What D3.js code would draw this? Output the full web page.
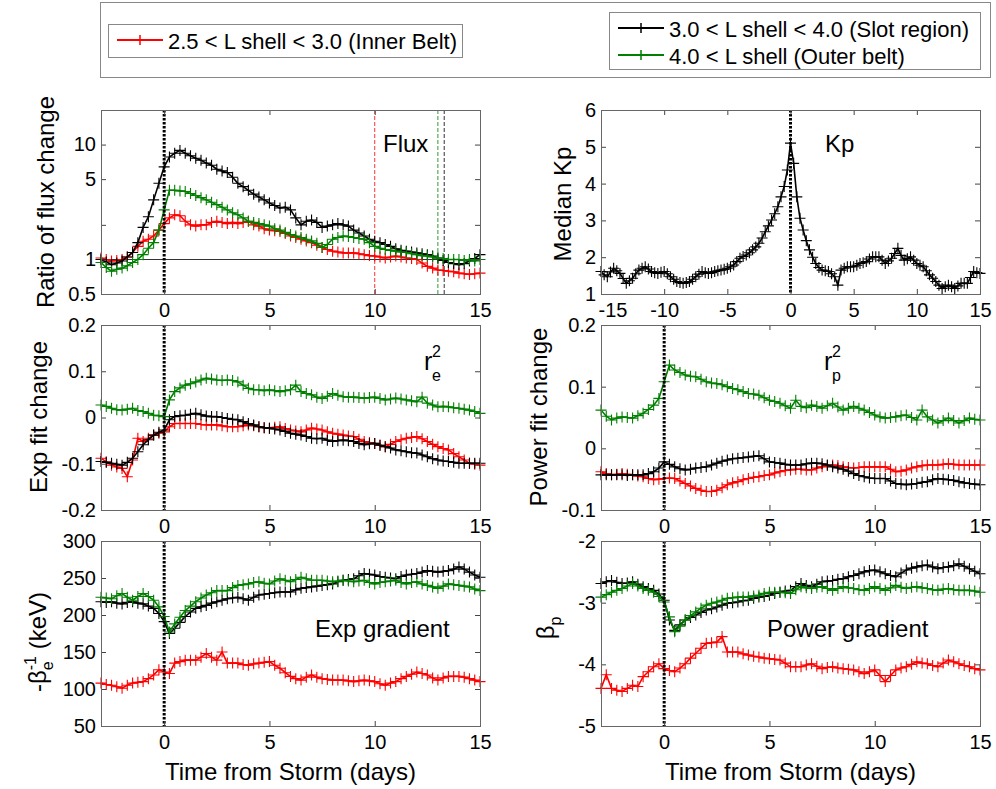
<!DOCTYPE html>
<html>
<head>
<meta charset="utf-8">
<script src="https://cdn.jsdelivr.net/npm/d3@7"></script>
<style>
  body { margin: 0; background: #fff; }
  svg { display: block; }
</style>
</head>
<body>
<svg id="chart" width="996" height="789"></svg>
<script>
// Superposed epoch analysis: values every 0.25 day
const step = 0.25;
const dayStart = -3;   // first sample of the [-3, 15] panels
const kpStart = -15;   // first sample of the Kp panel

const legendLabels = [
    "2.5 < L shell < 3.0 (Inner Belt)",
    "3.0 < L shell < 4.0 (Slot region)",
    "4.0 < L shell (Outer belt)"
];
const seriesColors = ["#ff0000", "#000000", "#008000"];

// Ratio of flux change (log axis)
const fluxRed = [
    1.03, 1.0, 0.97, 0.98,   1.0, 1.05, 1.15, 1.3,   1.44, 1.5, 1.6, 1.8,
    2.05, 2.3, 2.45, 2.4,    2.15, 2.0, 1.95, 2.0,   2.0, 2.1, 2.15, 2.1,
    2.05, 2.1, 2.05, 2.1,    2.15, 2.0, 1.95, 1.85,  1.8, 1.78, 1.75, 1.68,
    1.6, 1.55, 1.5, 1.45,    1.4, 1.33, 1.27, 1.22,  1.18, 1.16, 1.14, 1.14,
    1.14, 1.12, 1.1, 1.08,   1.07, 1.05, 1.03, 1.05, 1.07, 1.05, 1.03, 1.02,
    1.0, 0.93, 0.87, 0.84,   0.81, 0.8, 0.79, 0.78,  0.76, 0.75, 0.74, 0.75,
    0.76
];
const fluxBlack = [
    1.0, 0.95, 0.9, 0.93,    0.97, 1.05, 1.15, 1.4,  1.9, 2.35, 3.3, 4.6,
    6.4, 7.8, 8.4, 8.9,      8.4, 8.0, 7.6, 7.3,     6.9, 6.6, 6.1, 5.9,
    5.7, 5.2, 4.6, 4.3,      4.0, 3.7, 3.5, 3.3,     3.1, 2.95, 2.8, 2.85,
    2.7, 2.3, 2.0, 2.15,     2.2, 2.1, 1.9, 1.95,    2.0, 2.05, 2.0, 1.95,
    1.8, 1.7, 1.6, 1.5,      1.44, 1.4, 1.35, 1.3,   1.24, 1.2, 1.18, 1.16,
    1.14, 1.12, 1.1, 1.07,   1.03, 0.98, 0.94, 0.92, 0.9, 0.92, 0.97, 1.02,
    1.1
];
const fluxGreen = [
    0.94, 0.85, 0.79, 0.82,  0.84, 0.88, 0.94, 1.0,  1.1, 1.25, 1.4, 1.8,
    2.7, 4.0, 4.0, 3.95,     3.9, 3.75, 3.6, 3.45,   3.3, 3.15, 3.0, 2.85,
    2.7, 2.55, 2.45, 2.3,    2.15, 2.1, 2.05, 2.0,   1.95, 1.85, 1.8, 1.72,
    1.65, 1.6, 1.55, 1.5,    1.45, 1.38, 1.27, 1.35, 1.5, 1.55, 1.6, 1.58,
    1.55, 1.52, 1.5, 1.4,    1.3, 1.25, 1.22, 1.2,   1.18, 1.16, 1.15, 1.12,
    1.1, 1.08, 1.07, 1.05,   1.03, 1.02, 1.0, 1.0,   1.0, 0.98, 1.0, 0.97,
    1.0
];
// Day when each series returns to its pre-storm level
const fluxRecoveryDays = [10, 13.3, 13];

// Median Kp, -15 .. 15 days
const kpMedian = [
    1.61, 1.52, 1.47, 1.6,   1.7, 1.63, 1.56, 1.42,  1.29, 1.36, 1.43, 1.55,
    1.65, 1.7, 1.74, 1.68,   1.61, 1.58, 1.56, 1.59, 1.61, 1.55, 1.47, 1.4,
    1.34, 1.31, 1.29, 1.31,  1.34, 1.4, 1.47, 1.54,  1.61, 1.58, 1.56, 1.58,
    1.61, 1.63, 1.65, 1.67,  1.7, 1.74, 1.79, 1.88,  1.97, 2.02, 2.06, 2.12,
    2.2, 2.28, 2.38, 2.52,   2.69, 2.85, 3.01, 3.18, 3.37, 3.64, 3.92, 4.37,
    5.1, 4.55, 3.64, 3.06,   2.74, 2.45, 2.2, 2.0,   1.83, 1.72, 1.65, 1.63,
    1.61, 1.55, 1.47, 1.24,  1.65, 1.7, 1.74, 1.74,  1.74, 1.78, 1.83, 1.85,
    1.88, 1.95, 2.01, 2.01,  2.01, 1.92, 1.83, 1.9,  1.97, 2.1, 2.24, 2.05,
    1.92, 1.96, 2.01, 1.92,  1.83, 1.78, 1.74, 1.63, 1.52, 1.43, 1.34, 1.24,
    1.15, 1.2, 1.24, 1.2,    1.15, 1.22, 1.29, 1.29, 1.29, 1.45, 1.61, 1.58,
    1.56
];

// Exp fit change (r_e^2)
const expFitRed = [
    -0.088, -0.096, -0.103, -0.107,  -0.11, -0.128, -0.092, -0.045,  -0.052, -0.045, -0.038, -0.034,
    -0.031, -0.02, -0.013, -0.013,   -0.013, -0.013, -0.013, -0.015, -0.016, -0.016, -0.016, -0.018,
    -0.02, -0.02, -0.02, -0.018,     -0.016, -0.018, -0.02, -0.022,  -0.023, -0.021, -0.02, -0.024,
    -0.027, -0.029, -0.031, -0.027,  -0.023, -0.025, -0.027, -0.031, -0.034, -0.036, -0.038, -0.04,
    -0.041, -0.047, -0.052, -0.054,  -0.056, -0.06, -0.063, -0.058,  -0.052, -0.048, -0.045, -0.043,
    -0.041, -0.046, -0.052, -0.058,  -0.063, -0.067, -0.07, -0.078,  -0.085, -0.092, -0.099, -0.101,
    -0.103
];
const expFitBlack = [
    -0.095, -0.097, -0.099, -0.101,  -0.103, -0.097, -0.088, -0.074, -0.059, -0.048, -0.038, -0.032,
    -0.027, -0.005, 0.002, 0.004,    0.005, 0.007, 0.009, 0.006,     0.003, 0.002, 0.002, 0.0,
    -0.002, -0.004, -0.005, -0.009,  -0.013, -0.016, -0.02, -0.022,  -0.023, -0.025, -0.027, -0.03,
    -0.034, -0.036, -0.038, -0.041,  -0.045, -0.046, -0.045, -0.049, -0.052, -0.05, -0.049, -0.05,
    -0.052, -0.056, -0.059, -0.057,  -0.056, -0.06, -0.063, -0.066,  -0.07, -0.072, -0.074, -0.076,
    -0.077, -0.081, -0.085, -0.089,  -0.092, -0.094, -0.095, -0.097, -0.099, -0.099, -0.099, -0.099,
    -0.099
];
const expFitGreen = [
    0.027, 0.024, 0.02, 0.017,   0.016, 0.018, 0.02, 0.015,   0.013, 0.009, 0.005, 0.004,
    0.002, 0.038, 0.056, 0.064,  0.07, 0.073, 0.077, 0.081,   0.085, 0.083, 0.081, 0.08,
    0.081, 0.08, 0.077, 0.07,    0.063, 0.06, 0.06, 0.058,    0.06, 0.058, 0.056, 0.058,
    0.06, 0.07, 0.056, 0.052,    0.049, 0.044, 0.041, 0.046,  0.052, 0.048, 0.045, 0.044,
    0.044, 0.043, 0.042, 0.043,  0.044, 0.041, 0.038, 0.04,   0.042, 0.04, 0.038, 0.036,
    0.034, 0.044, 0.031, 0.027,  0.023, 0.024, 0.023, 0.021,  0.02, 0.018, 0.016, 0.013,
    0.009
];

// Power fit change (r_p^2)
const powFitRed = [
    -0.038, -0.041, -0.043, -0.042,  -0.041, -0.042, -0.043, -0.045, -0.046, -0.049, -0.051, -0.05,
    -0.049, -0.048, -0.049, -0.053,  -0.057, -0.061, -0.065, -0.068, -0.07, -0.07, -0.068, -0.064,
    -0.059, -0.056, -0.054, -0.051,  -0.049, -0.047, -0.046, -0.044, -0.043, -0.04, -0.038, -0.036,
    -0.035, -0.034, -0.034, -0.035,  -0.035, -0.032, -0.03, -0.028,  -0.027, -0.028, -0.03, -0.031,
    -0.032, -0.031, -0.03, -0.03,    -0.03, -0.03, -0.03, -0.034,    -0.038, -0.037, -0.035, -0.032,
    -0.03, -0.028, -0.027, -0.027,   -0.027, -0.026, -0.025, -0.026, -0.027, -0.027, -0.027, -0.027,
    -0.027
];
const powFitBlack = [
    -0.043, -0.043, -0.043, -0.043,  -0.043, -0.044, -0.043, -0.043, -0.043, -0.041, -0.038, -0.032,
    -0.022, -0.026, -0.03, -0.033,   -0.035, -0.034, -0.032, -0.031, -0.03, -0.027, -0.024, -0.021,
    -0.019, -0.017, -0.016, -0.015,  -0.014, -0.013, -0.012, -0.017, -0.022, -0.023, -0.024, -0.026,
    -0.027, -0.027, -0.027, -0.025,  -0.024, -0.024, -0.025, -0.027, -0.03, -0.032, -0.034, -0.037,
    -0.041, -0.044, -0.046, -0.048,  -0.049, -0.049, -0.049, -0.053, -0.057, -0.058, -0.059, -0.058,
    -0.057, -0.055, -0.054, -0.051,  -0.049, -0.05, -0.051, -0.052,  -0.054, -0.056, -0.057, -0.058,
    -0.059
];
const powFitGreen = [
    0.062, 0.052, 0.046, 0.049,  0.051, 0.05, 0.049, 0.053,   0.057, 0.063, 0.07, 0.081,
    0.108, 0.135, 0.127, 0.123,  0.119, 0.117, 0.116, 0.112,  0.108, 0.106, 0.105, 0.103,
    0.1, 0.097, 0.095, 0.092,    0.089, 0.088, 0.086, 0.082,  0.078, 0.076, 0.073, 0.069,
    0.065, 0.078, 0.068, 0.066,  0.07, 0.068, 0.065, 0.069,   0.073, 0.067, 0.062, 0.065,
    0.068, 0.065, 0.062, 0.058,  0.054, 0.051, 0.049, 0.05,   0.051, 0.053, 0.054, 0.05,
    0.046, 0.062, 0.051, 0.046,  0.041, 0.045, 0.049, 0.045,  0.041, 0.045, 0.049, 0.047,
    0.046
];

// Exp gradient, -1/beta_e (keV)
const expGradRed = [
    108, 106, 105, 103,  101, 105, 108, 109,  110, 114, 119, 126,
    123, 121, 135, 137,  139, 139, 139, 143,  148, 143, 139, 150,
    135, 135, 135, 133,  132, 134, 135, 136,  137, 132, 128, 122,
    117, 114, 112, 116,  119, 116, 114, 113,  112, 112, 112, 111,
    110, 111, 112, 111,  110, 107, 105, 108,  110, 114, 117, 120,
    123, 121, 119, 115,  112, 115, 117, 117,  117, 116, 114, 112,
    110
];
const expGradBlack = [
    218, 217, 218, 216,  215, 217, 218, 216,  215, 212, 209, 202,
    191, 175, 182, 190,  198, 204, 209, 211,  213, 216, 218, 220,
    222, 223, 224, 222,  220, 224, 227, 228,  229, 230, 231, 231,
    231, 234, 236, 237,  238, 239, 240, 241,  242, 245, 247, 248,
    249, 253, 256, 255,  254, 252, 251, 250,  249, 252, 254, 255,
    256, 258, 260, 259,  258, 259, 260, 262,  265, 262, 258, 254,
    251
];
const expGradGreen = [
    224, 223, 222, 226,  229, 224, 220, 225,  229, 225, 220, 211,
    198, 177, 188, 197,  206, 212, 218, 223,  227, 230, 233, 233,
    233, 237, 240, 241,  242, 244, 245, 243,  242, 246, 249, 247,
    245, 248, 251, 249,  247, 247, 247, 246,  245, 246, 247, 246,
    245, 246, 247, 244,  242, 244, 245, 246,  247, 244, 242, 244,
    245, 242, 240, 238,  236, 239, 242, 241,  240, 239, 238, 235,
    233
];

// Power gradient, beta_p
const powGradRed = [
    -4.39, -4.17, -4.39, -4.42,  -4.44, -4.39, -4.34, -4.36,  -4.2, -4.12, -4.04, -3.99,
    -4.07, -4.1, -4.12, -4.06,   -3.99, -3.9, -3.82, -3.74,   -3.66, -3.65, -3.64, -3.55,
    -3.8, -3.8, -3.8, -3.83,     -3.85, -3.87, -3.88, -3.9,   -3.91, -3.92, -3.93, -3.98,
    -4.04, -4.04, -4.04, -4.01,  -3.99, -4.03, -4.07, -4.05,  -4.04, -4.06, -4.07, -4.08,
    -4.09, -4.12, -4.15, -4.12,  -4.09, -4.18, -4.28, -4.18,  -4.09, -4.06, -4.04, -4.0,
    -3.96, -3.98, -3.99, -4.02,  -4.04, -3.98, -3.93, -3.96,  -3.99, -4.02, -4.04, -4.07,
    -4.09
];
const powGradBlack = [
    -2.69, -2.66, -2.64, -2.67,  -2.69, -2.68, -2.66, -2.7,   -2.74, -2.77, -2.8, -2.86,
    -2.96, -3.28, -3.45, -3.36,  -3.28, -3.24, -3.2, -3.16,   -3.12, -3.1, -3.07, -3.04,
    -3.01, -3.0, -2.99, -2.97,   -2.96, -2.93, -2.91, -2.9,   -2.88, -2.85, -2.83, -2.81,
    -2.8, -2.74, -2.69, -2.72,   -2.74, -2.7, -2.66, -2.65,   -2.64, -2.62, -2.61, -2.58,
    -2.56, -2.53, -2.5, -2.48,   -2.47, -2.5, -2.53, -2.56,   -2.58, -2.52, -2.47, -2.44,
    -2.42, -2.4, -2.39, -2.42,   -2.45, -2.43, -2.42, -2.4,   -2.37, -2.41, -2.45, -2.49,
    -2.53
];
const powGradGreen = [
    -2.91, -2.87, -2.83, -2.8,   -2.77, -2.73, -2.69, -2.73,  -2.77, -2.8, -2.83, -2.9,
    -2.99, -3.23, -3.47, -3.38,  -3.28, -3.21, -3.15, -3.09,  -3.04, -3.01, -2.99, -2.96,
    -2.93, -2.92, -2.91, -2.91,  -2.91, -2.89, -2.88, -2.85,  -2.83, -2.83, -2.83, -2.84,
    -2.85, -2.79, -2.74, -2.76,  -2.77, -2.75, -2.74, -2.77,  -2.8, -2.77, -2.74, -2.76,
    -2.77, -2.79, -2.8, -2.77,   -2.74, -2.77, -2.8, -2.76,   -2.72, -2.75, -2.77, -2.75,
    -2.74, -2.76, -2.77, -2.79,  -2.8, -2.78, -2.77, -2.79,   -2.8, -2.8, -2.8, -2.81,
    -2.83
];

// Axis ticks
const dayTicks = [0, 5, 10, 15];
const kpDayTicks = [-15, -10, -5, 0, 5, 10, 15];
const fluxTicks = [0.5, 1, 2, 5, 10];
const fluxTickLabels = ["0.5", "1", "", "5", "10"];
const kpTicks = [1, 2, 3, 4, 5, 6];
const expFitTicks = [-0.2, -0.1, 0, 0.1, 0.2];
const powFitTicks = [-0.1, 0, 0.1, 0.2];
const expGradTicks = [50, 100, 150, 200, 250, 300];
const powGradTicks = [-5, -4, -3, -2];

const FONT = "'Liberation Sans', Arial, Helvetica, sans-serif";
const svg = d3.select("#chart").attr("font-family", FONT);

// Layout of the 3x2 grid
const cols = [[101, 480], [601, 980]];
const rows = [[110, 294], [325, 510], [541, 726]];

const panels = [
    {
        col: 0, row: 0, xDomain: [-3, 15], xTicks: dayTicks, start: dayStart,
        log: true, yDomain: [0.5, 20], yTicks: fluxTicks,
        yFormat: (d, i) => fluxTickLabels[i],
        series: [fluxRed, fluxBlack, fluxGreen],
        ylabel: { parts: [{ t: "Ratio of flux change" }], bx: 54, cy: 202 },
        notes: [{ t: "Flux", x: 383, y: 152, s: 24 }]
    },
    {
        col: 1, row: 0, xDomain: [-15, 15], xTicks: kpDayTicks, start: kpStart,
        yDomain: [1, 6], yTicks: kpTicks, yFormat: d => String(d),
        series: [null, kpMedian, null],
        ylabel: { parts: [{ t: "Median Kp" }], bx: 571, cy: 204 },
        notes: [{ t: "Kp", x: 825, y: 152, s: 24 }],
        nudgeFirstX: true
    },
    {
        col: 0, row: 1, xDomain: [-3, 15], xTicks: dayTicks, start: dayStart,
        yDomain: [-0.2, 0.2], yTicks: expFitTicks, yFormat: d => String(d),
        series: [expFitRed, expFitBlack, expFitGreen],
        ylabel: { parts: [{ t: "Exp fit change" }], bx: 47, cy: 417 },
        notes: [
            { t: "r", x: 424, y: 370, s: 25 },
            { t: "2", x: 432, y: 357, s: 16 },
            { t: "e", x: 432, y: 381, s: 16 }
        ]
    },
    {
        col: 1, row: 1, xDomain: [-3, 15], xTicks: dayTicks, start: dayStart,
        yDomain: [-0.1, 0.2], yTicks: powFitTicks, yFormat: d => String(d),
        series: [powFitRed, powFitBlack, powFitGreen],
        ylabel: { parts: [{ t: "Power fit change" }], bx: 547, cy: 417 },
        notes: [
            { t: "r", x: 824, y: 370, s: 25 },
            { t: "2", x: 832, y: 357, s: 16 },
            { t: "p", x: 832, y: 381, s: 16 }
        ]
    },
    {
        col: 0, row: 2, xDomain: [-3, 15], xTicks: dayTicks, start: dayStart,
        yDomain: [50, 300], yTicks: expGradTicks, yFormat: d => String(d),
        series: [expGradRed, expGradBlack, expGradGreen],
        ylabel: {
            parts: [
                { t: "-β" },
                { t: "e", s: 16, dy: 7 },
                { t: "-1", s: 16, dx: -9, dy: -17 },
                { t: " (keV)", dy: 10 }
            ], bx: 46, cy: 642
        },
        notes: [{ t: "Exp gradient", x: 315, y: 637, s: 24 }]
    },
    {
        col: 1, row: 2, xDomain: [-3, 15], xTicks: dayTicks, start: dayStart,
        yDomain: [-5, -2], yTicks: powGradTicks, yFormat: d => String(d),
        series: [powGradRed, powGradBlack, powGradGreen],
        ylabel: {
            parts: [{ t: "β" }, { t: "p", s: 16, dy: 7 }], bx: 554, cy: 628
        },
        notes: [{ t: "Power gradient", x: 767, y: 637, s: 24 }]
    }
];

const plusPath = "M-5.5,0H5.5M0,-5.5V5.5";

panels.forEach(p => {
    const [x0, x1] = cols[p.col];
    const [y0, y1] = rows[p.row];

    const x = d3.scaleLinear().domain(p.xDomain).range([x0, x1]);
    const y = (p.log ? d3.scaleLog() : d3.scaleLinear()).domain(p.yDomain).range([y1, y0]);

    const g = svg.append("g");

    // plot background
    g.append("rect")
        .attr("x", x0).attr("y", y0)
        .attr("width", x1 - x0).attr("height", y1 - y0)
        .attr("fill", "#fff");

    // reference line at ratio 1 and recovery markers
    if (p.log) {
        g.append("line")
            .attr("x1", x0).attr("x2", x1)
            .attr("y1", Math.round(y(1)) + 0.5).attr("y2", Math.round(y(1)) + 0.5)
            .attr("stroke", "#333").attr("stroke-width", 1);
        fluxRecoveryDays.forEach((d, i) => {
            g.append("line")
                .attr("x1", x(d)).attr("x2", x(d))
                .attr("y1", y0).attr("y2", y1)
                .attr("stroke", seriesColors[i])
                .attr("stroke-width", 1)
                .attr("stroke-dasharray", "4,2")
                .attr("opacity", 0.8);
        });
    }

    // series: red, black, green
    p.series.forEach((vals, si) => {
        if (!vals) return;
        const color = seriesColors[si];
        const pts = vals.map((v, i) => [x(p.start + i * step), y(v)]);
        g.append("path")
            .attr("d", d3.line()(pts))
            .attr("fill", "none")
            .attr("stroke", color)
            .attr("stroke-width", 1.6);
        g.append("g").selectAll("path")
            .data(pts)
            .join("path")
            .attr("transform", d => `translate(${d[0]},${d[1]})`)
            .attr("d", plusPath)
            .attr("fill", "none")
            .attr("stroke", color)
            .attr("stroke-width", 1.1);
    });

    // storm onset
    g.append("line")
        .attr("x1", x(0)).attr("x2", x(0))
        .attr("y1", y0).attr("y2", y1)
        .attr("stroke", "#000")
        .attr("stroke-width", 3)
        .attr("stroke-dasharray", "2.5,1.5");

    // axes with inward ticks on all four sides
    const styleAxis = sel => {
        sel.select(".domain").remove();
        sel.attr("font-family", FONT).attr("font-size", 20);
        sel.selectAll(".tick line").attr("stroke", "#444");
        sel.selectAll(".tick text").attr("fill", "#000");
    };
    g.append("g")
        .attr("transform", `translate(${x0},0)`)
        .call(d3.axisLeft(y).tickValues(p.yTicks).tickSize(-5).tickPadding(5).tickFormat(p.yFormat))
        .call(styleAxis);
    g.append("g")
        .attr("transform", `translate(${x1},0)`)
        .call(d3.axisRight(y).tickValues(p.yTicks).tickSize(-5).tickFormat(""))
        .call(styleAxis);
    const bottom = g.append("g")
        .attr("transform", `translate(0,${y1})`)
        .call(d3.axisBottom(x).tickValues(p.xTicks).tickSize(-5).tickPadding(9).tickFormat(d => String(d)))
        .call(styleAxis);
    if (p.nudgeFirstX) {
        // keep the first day label clear of the y tick labels
        bottom.select(".tick text").attr("text-anchor", "start").attr("x", -3);
    }
    g.append("g")
        .attr("transform", `translate(0,${y0})`)
        .call(d3.axisTop(x).tickValues(p.xTicks).tickSize(-5).tickFormat(""))
        .call(styleAxis);

    // box
    g.append("rect")
        .attr("x", x0 + 0.5).attr("y", y0 + 0.5)
        .attr("width", x1 - x0).attr("height", y1 - y0)
        .attr("fill", "none")
        .attr("stroke", "#666")
        .attr("stroke-width", 1);

    // y label (rotated, with sub/superscripts)
    const yl = svg.append("text")
        .attr("transform", `translate(${p.ylabel.bx},${p.ylabel.cy}) rotate(-90)`)
        .attr("text-anchor", "middle")
        .attr("font-size", 24)
        .attr("fill", "#000");
    p.ylabel.parts.forEach(part => {
        yl.append("tspan")
            .attr("font-size", part.s || 24)
            .attr("dx", part.dx || 0)
            .attr("dy", part.dy || 0)
            .text(part.t);
    });

    // panel annotations
    p.notes.forEach(n => {
        svg.append("text")
            .attr("x", n.x).attr("y", n.y)
            .attr("font-size", n.s)
            .attr("fill", "#000")
            .text(n.t);
    });

    // x label on bottom row
    if (p.row === 2) {
        svg.append("text")
            .attr("x", (x0 + x1) / 2).attr("y", 780)
            .attr("text-anchor", "middle")
            .attr("font-size", 24)
            .attr("fill", "#000")
            .text("Time from Storm (days)");
    }
});

// Legend
const legend = svg.append("g");
legend.append("rect")
    .attr("x", 100.5).attr("y", 2.5).attr("width", 890).attr("height", 75)
    .attr("fill", "#fff").attr("stroke", "#888");
legend.append("rect")
    .attr("x", 108.5).attr("y", 24.5).attr("width", 354).attr("height", 33)
    .attr("fill", "#fff").attr("stroke", "#888");
legend.append("rect")
    .attr("x", 609.5).attr("y", 12.5).attr("width", 371).attr("height", 57)
    .attr("fill", "#fff").attr("stroke", "#888");

const legendSpots = [
    { lx: 117, ly: 40 },
    { lx: 618, ly: 28 },
    { lx: 618, ly: 55 }
];
legendLabels.forEach((label, i) => {
    const s = legendSpots[i];
    legend.append("line")
        .attr("x1", s.lx).attr("x2", s.lx + 46)
        .attr("y1", s.ly).attr("y2", s.ly)
        .attr("stroke", seriesColors[i]).attr("stroke-width", 2);
    legend.append("path")
        .attr("transform", `translate(${s.lx + 23},${s.ly})`)
        .attr("d", "M-5,0H5M0,-5V5")
        .attr("stroke", seriesColors[i]).attr("stroke-width", 1.5);
    legend.append("text")
        .attr("x", s.lx + 51).attr("y", s.ly + 9)
        .attr("font-size", 22)
        .attr("fill", "#000")
        .text(label);
});
</script>
</body>
</html>
